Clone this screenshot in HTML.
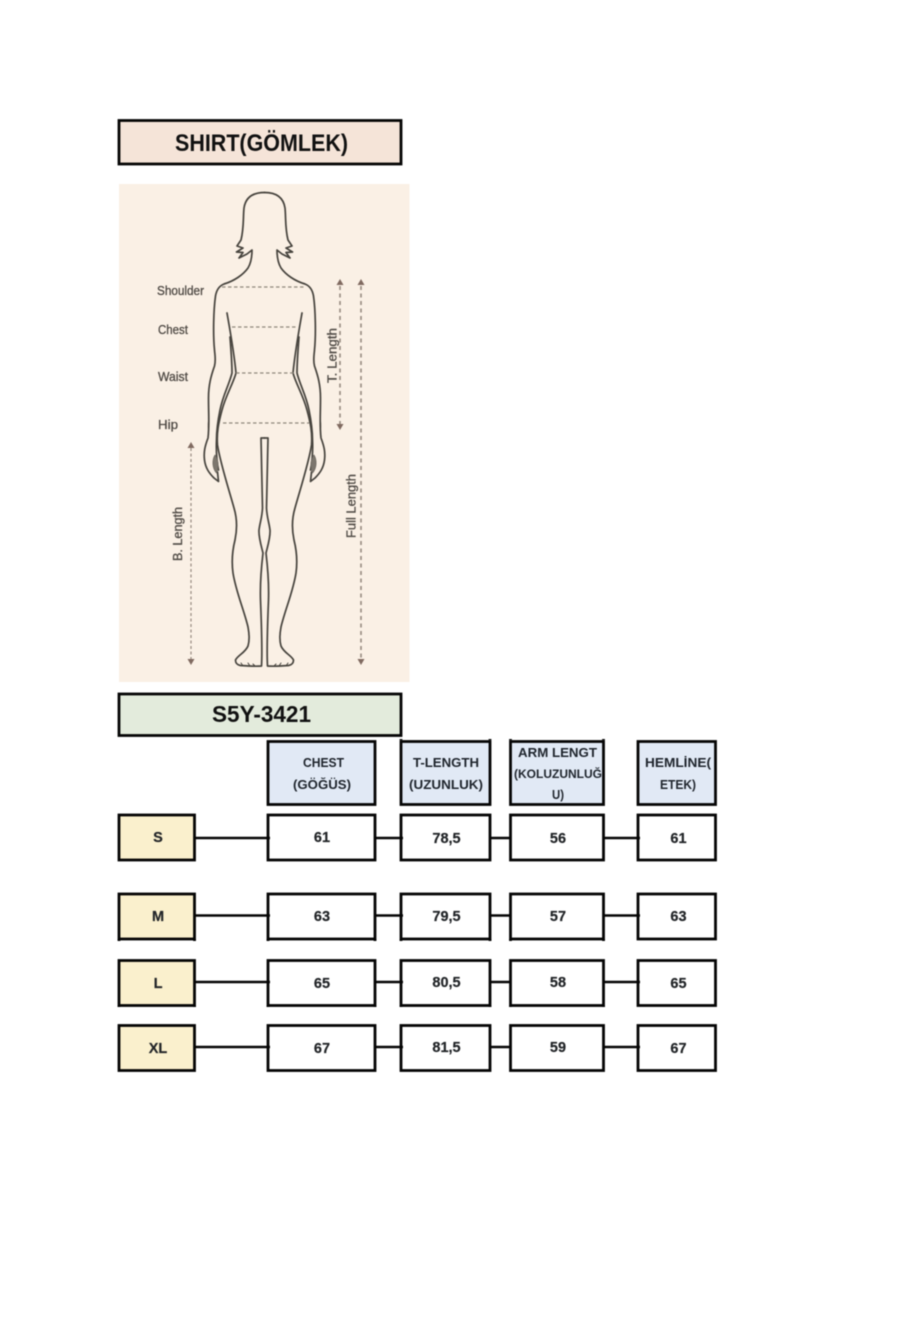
<!DOCTYPE html>
<html>
<head>
<meta charset="utf-8">
<style>
html,body{margin:0;padding:0;background:#fff;width:912px;height:1318px;overflow:hidden}
svg{display:block;filter:blur(0.45px)}
text{font-family:"Liberation Sans",sans-serif}
.h{font-weight:bold;font-size:13px;fill:#20262e}
.h2{font-weight:bold;font-size:11.500px;fill:#20262e}
.v{font-weight:bold;font-size:14.500px;fill:#222528;stroke:#222528;stroke-width:0.200}
.l{font-size:13px;fill:#4f4a45;stroke:#4f4a45;stroke-width:0.300}
.b{stroke:#050505;stroke-width:2.800;stroke-linejoin:miter}
</style>
</head>
<body>
<svg width="912" height="1318" viewBox="0 0 912 1318" xmlns="http://www.w3.org/2000/svg">
<rect width="912" height="1318" fill="#fff"/>

<rect class="b" x="119" y="120.500" width="282" height="43.500" fill="#f5e4d8"/>
<text x="175" y="151" font-size="24" font-weight="bold" fill="#111" textLength="173" lengthAdjust="spacingAndGlyphs">SHIRT(GÖMLEK)</text>

<rect x="119" y="184" width="290.500" height="498" fill="#faf0e5"/>

<defs>
<g id="half" fill="none" stroke="#46433d" stroke-width="1.700" stroke-linejoin="round" stroke-linecap="round">
<path d="M264.500 192.500C252 192.500 245.500 198 244 208C243 218 244 228 241 240L237 246L243 248L236.500 252L243 252.500L239 258L247 254L252 250C252 258 251 263 248 268C243 275 234 281 224 284C219 286 216.500 290 215.500 296C213.500 310 213 335 214.500 350C215 356 216 360 214.500 366C211 376 208.500 385 208.500 398C208.500 415 209.500 425 208 438C205 446 203.500 452 204.500 460C205.500 468 209 473 214 478L218.500 481.500L217.500 472"/>
<path d="M227 313C230 330 234 352 236 373C233 384 226 395 222 410C218.500 423 216.500 433 217.500 445C220 462 229 490 234 508C237 518 237.500 528 235 540C232 552 231.500 562 233 573C236 592 244 610 248 627C249.500 635 249.500 641 248 646C245 653 238 655 235.500 660C235.500 664 238 665 240.500 665.500C247 666 255 666.500 261.500 666C262.500 650 261.500 625 260.500 600C260 585 261 570 263 553C261 545 258.500 537 259 530C260 522 262 518 262.500 508L261 438L264.500 438"/>
<path d="M230 337C231 350 232 362 232 373C229 385 223 395 220 410C218 420 216.500 430 216.500 440C216 450 217 462 218.500 470"/>
<path d="M209 417.500C208.500 420 208 425 208.500 430" stroke-width="0.900"/>
<path d="M215 455C212 460 212 468 216.500 473C219 467 218.500 460 215 455Z" fill="#7d776e" stroke="#6f6a62" stroke-width="0.800"/>
<path d="M241 663L243 666M248 663L250 666M253 664L255 666" stroke-width="1"/>
</g>
<g id="row">
<rect class="b" x="119" y="0" width="75.500" height="45" fill="#faf0cd"/>
<rect class="b" x="268" y="0" width="107" height="45" fill="#fff"/>
<rect class="b" x="401" y="0" width="89" height="45" fill="#fff"/>
<rect class="b" x="510.500" y="0" width="93" height="45" fill="#fff"/>
<rect class="b" x="638" y="0" width="77.500" height="45" fill="#fff"/>
</g>
</defs>

<use href="#half"/>
<use href="#half" transform="matrix(-1 0 0 1 529 0)"/>

<g stroke="#8f877c" stroke-width="1.300" stroke-dasharray="3.500 2.500" fill="none">
<path d="M222 287H306"/>
<path d="M232 327H298"/>
<path d="M236 373H294"/>
<path d="M223 423H309"/>
</g>
<g stroke="#978a80" fill="none">
<path d="M340 286V426M361 286V660" stroke-width="1.600" stroke-dasharray="4 3.500"/>
<path d="M191 448V660" stroke-width="1.200" stroke-dasharray="3 2.500"/>
</g>
<g fill="#806a60">
<path d="M340 279L343.500 285H336.500Z"/>
<path d="M361 279L364.500 285H357.500Z"/>
<path d="M340 430L343.500 424H336.500Z"/>
<path d="M361 665L364.500 659H357.500Z"/>
<path d="M191 442L194.500 448H187.500Z"/>
<path d="M191 665L194.500 659H187.500Z"/>
</g>

<text class="l" x="157" y="295" textLength="47" lengthAdjust="spacingAndGlyphs">Shoulder</text>
<text class="l" x="158" y="334" textLength="30" lengthAdjust="spacingAndGlyphs">Chest</text>
<text class="l" x="158" y="381" textLength="30" lengthAdjust="spacingAndGlyphs">Waist</text>
<text class="l" x="158" y="429" textLength="20" lengthAdjust="spacingAndGlyphs">Hip</text>
<text class="l" transform="translate(336.500,383) rotate(-90)" textLength="55" lengthAdjust="spacingAndGlyphs">T. Length</text>
<text class="l" transform="translate(355.500,538) rotate(-90)" textLength="64" lengthAdjust="spacingAndGlyphs">Full Length</text>
<text class="l" transform="translate(182,561) rotate(-90)" textLength="54" lengthAdjust="spacingAndGlyphs">B. Length</text>

<rect class="b" x="119" y="694" width="282" height="41.500" fill="#e3ebdc"/>
<text x="212" y="722" font-size="23" font-weight="bold" fill="#111" textLength="99" lengthAdjust="spacingAndGlyphs">S5Y-3421</text>

<rect class="b" x="268" y="741.500" width="107" height="63" fill="#e1e9f5"/>
<rect class="b" x="401" y="741.500" width="89" height="63" fill="#e1e9f5"/>
<rect class="b" x="510.500" y="741.500" width="93" height="63" fill="#e1e9f5"/>
<rect class="b" x="638" y="741.500" width="77.500" height="63" fill="#e1e9f5"/>

<text class="h" x="303" y="767" textLength="41" lengthAdjust="spacingAndGlyphs">CHEST</text>
<text class="h" x="293" y="789" textLength="58" lengthAdjust="spacingAndGlyphs">(GÖĞÜS)</text>
<text class="h" x="413" y="767" textLength="66" lengthAdjust="spacingAndGlyphs">T-LENGTH</text>
<text class="h" x="409" y="789" textLength="74" lengthAdjust="spacingAndGlyphs">(UZUNLUK)</text>
<text class="h" x="518" y="757" textLength="79" lengthAdjust="spacingAndGlyphs">ARM LENGT</text>
<text class="h2" x="514" y="778" textLength="88" lengthAdjust="spacingAndGlyphs">(KOLUZUNLUĞ</text>
<text class="h" x="552" y="799" textLength="12" lengthAdjust="spacingAndGlyphs">U)</text>
<text class="h" x="645" y="767" textLength="66" lengthAdjust="spacingAndGlyphs">HEMLİNE(</text>
<text class="h" x="660" y="789" textLength="36" lengthAdjust="spacingAndGlyphs">ETEK)</text>

<use href="#row" y="815"/>
<use href="#row" y="894"/>
<use href="#row" y="960.500"/>
<use href="#row" y="1025.500"/>

<g stroke="#050505" stroke-width="2.600" fill="none">
<path d="M195 838H270M376 838H403M490 838H511M604 838H640"/>
<path d="M195 915.500H270M376 915.500H403M490 915.500H511M604 915.500H640"/>
<path d="M195 982H270M376 982H403M490 982H511M604 982H640"/>
<path d="M195 1047H270M376 1047H403M490 1047H511M604 1047H640"/>
</g>

<g stroke="#050505" stroke-width="2.800" fill="none">
<path d="M119 1005.500V1007M194.500 1005.500V1007M268 1005.500V1007M375 1005.500V1007M401 1005.500V1007M490 1005.500V1007M510.500 1005.500V1007M603.500 1005.500V1007"/>
<path d="M119 939V941M194.500 939V941M268 939V941M375 939V941M401 939V941M490 939V941M510.500 939V941M603.500 939V941"/>
<path d="M401 740V739M490 740V739M510.500 740V739M603.500 740V739"/>
</g>

<g text-anchor="middle">
<text class="v" x="322" y="842">61</text>
<text class="v" x="446.500" y="843">78,5</text>
<text class="v" x="558" y="843">56</text>
<text class="v" x="678.500" y="843">61</text>
<text class="v" x="322" y="921">63</text>
<text class="v" x="446.500" y="921">79,5</text>
<text class="v" x="558" y="921">57</text>
<text class="v" x="678.500" y="921">63</text>
<text class="v" x="322" y="988">65</text>
<text class="v" x="446.500" y="987">80,5</text>
<text class="v" x="558" y="987">58</text>
<text class="v" x="678.500" y="988">65</text>
<text class="v" x="322" y="1053">67</text>
<text class="v" x="446.500" y="1052">81,5</text>
<text class="v" x="558" y="1052">59</text>
<text class="v" x="678.500" y="1053">67</text>
<text class="v" x="158" y="842">S</text>
<text class="v" x="158" y="921">M</text>
<text class="v" x="158" y="988">L</text>
<text class="v" x="158" y="1053">XL</text>
</g>
</svg>
</body>
</html>
